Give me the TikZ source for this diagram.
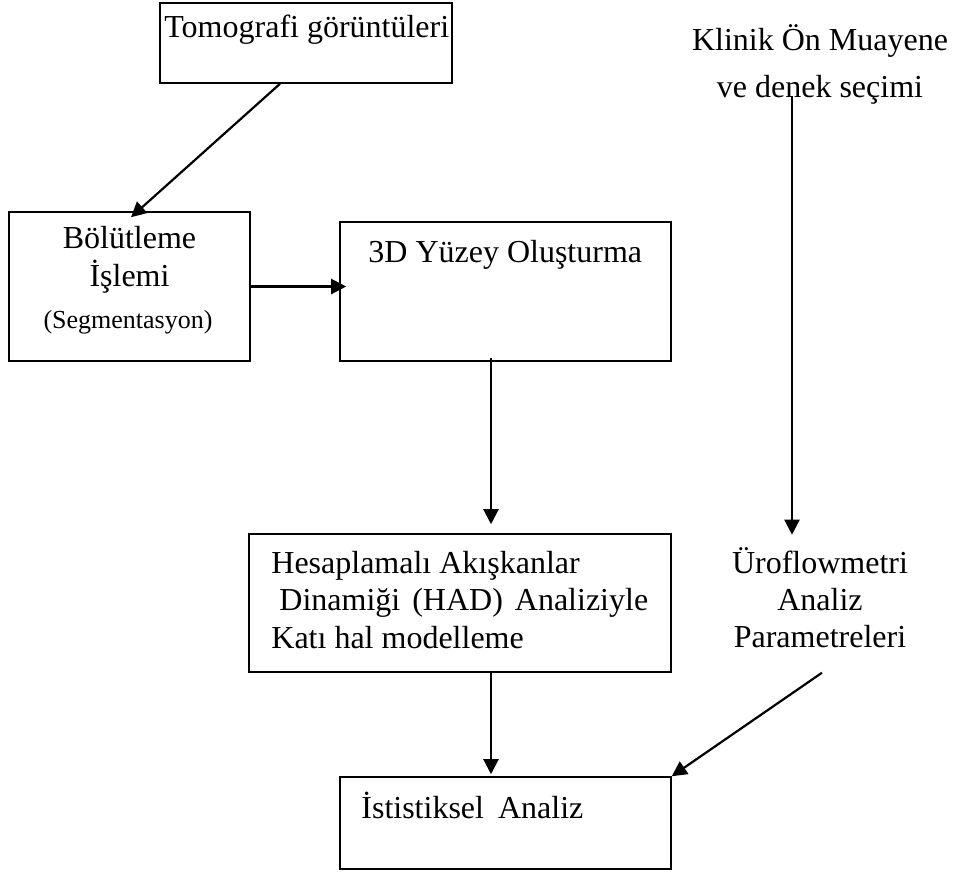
\documentclass[tikz,border=0pt]{standalone}
\usepackage{fontspec}
\setmainfont{Liberation Serif}
\usetikzlibrary{arrows.meta}
\tikzset{
  box/.style={draw, line width=0.8pt, inner sep=0pt},
  txt/.style={inner sep=0pt, font=\fontsize{16}{19}\selectfont},
  arr/.style={-{Triangle[length=7.5pt,width=7.5pt]}, line width=1.1pt}
}
\begin{document}
\begin{tikzpicture}[x=0.5pt,y=-0.5pt]
\useasboundingbox (0,0) rectangle (953,874);
\node (tomografi) [box, minimum width=146pt, minimum height=40pt] at (306,43) {};
\node (bolutleme) [box, minimum width=120.5pt, minimum height=74.5pt] at (129.5,286.5) {};
\node (yuzey) [box, minimum width=165.5pt, minimum height=69.5pt] at (505.5,291.5) {};
\node (had) [box, minimum width=211pt, minimum height=69pt] at (460,603) {};
\node (istatistik) [box, minimum width=165.5pt, minimum height=46pt] at (505.5,823) {};
\node [txt, anchor=base west] at (164,37) {Tomografi görüntüleri};
\node [txt, align=center, anchor=base] at (129.5,286) {Bölütleme\\İşlemi};
\node [txt, font=\fontsize{13}{15}\selectfont, anchor=base] at (128,328) {(Segmentasyon)};
\node [txt, anchor=base west] at (368,262) {3D Yüzey Oluşturma};
\node (klinik) [txt, align=center, anchor=base, font=\fontsize{16}{23.5}\selectfont] at (820,97) {Klinik Ön Muayene\\ve denek seçimi};
\node [txt, align=left, anchor=base west, font=\fontsize{16}{18.75}\selectfont] at (271,648) {Hesaplamalı Akışkanlar\\\hspace*{4pt}Dinamiği\hspace{2pt} (HAD)\hspace{2pt} Analiziyle\\Katı hal modelleme};
\node (uroflow) [txt, align=center, anchor=base, font=\fontsize{16}{18.5}\selectfont] at (820,647) {Üroflowmetri\\Analiz\\Parametreleri};
\node [txt, anchor=base west] at (361,818) {İstistiksel\hspace{3pt} Analiz};
\coordinate (kolon) at (491,0);
\coordinate (hat) at (792,0);
\draw [arr] ([xshift=-13pt]tomografi.south) -- ([xshift=0.75pt,yshift=-3pt]bolutleme.north);
\draw [arr] (bolutleme.east) -- ([xshift=3.5pt]bolutleme.east -| yuzey.west);
\draw [arr] ([yshift=2pt]kolon |- yuzey.south) -- ([yshift=4.5pt]kolon |- had.north);
\draw [arr] (kolon |- had.south) -- ([yshift=1pt]kolon |- istatistik.north);
\draw [arr] ([yshift=4pt]hat |- klinik.south) -- ([yshift=6pt]hat |- uroflow.north);
\draw [arr] ([xshift=1pt,yshift=-12.5pt]uroflow.south) -- (istatistik.north east);
\end{tikzpicture}
\end{document}
